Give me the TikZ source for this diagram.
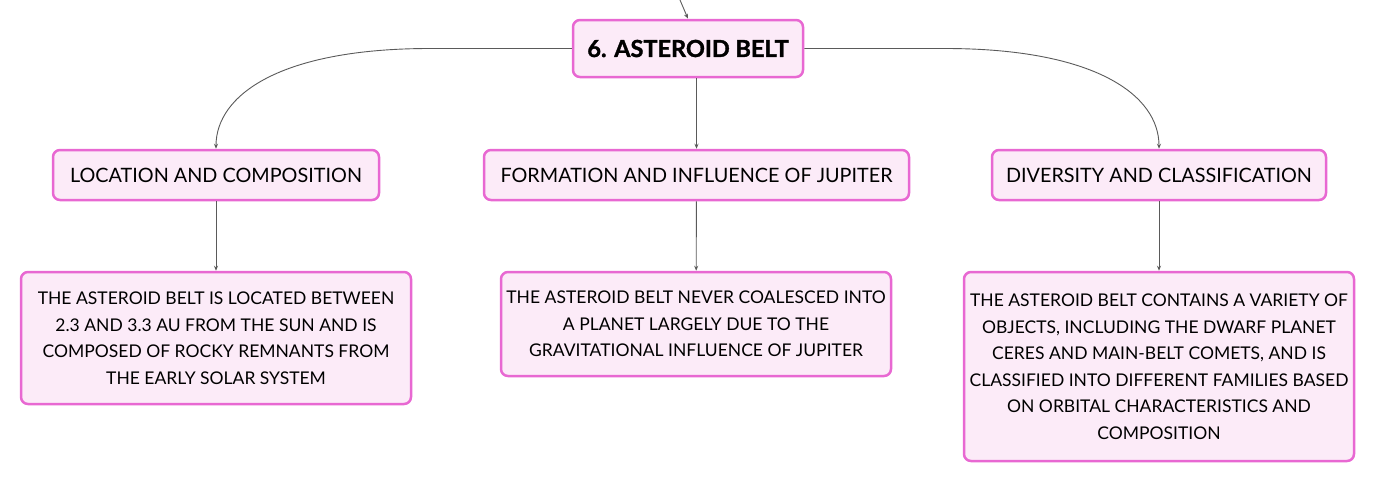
\documentclass[tikz,border=0pt]{standalone}
\usepackage{fontspec}
\setmainfont{Lato}
\newfontfamily\titlefont[FakeBold=1.4]{Lato Bold}
\usetikzlibrary{arrows.meta}
\definecolor{boxfill}{HTML}{FCEBF8}
\definecolor{boxline}{HTML}{E868D2}
\definecolor{conn}{HTML}{5A5A5A}
\tikzset{
  mbox/.style={draw=boxline, fill=boxfill, line width=2.5pt, rounded corners=7pt, inner sep=0pt, align=center, text=black},
  lvlone/.style={mbox, font=\fontsize{19.8}{24}\selectfont, minimum height=50pt},
  lvltwo/.style={mbox, font=\fontsize{17.5}{26.5}\selectfont},
  conn/.style={draw=conn, line width=0.9pt, -{Stealth[length=5pt,width=4pt]}}
}
\begin{document}
\begin{tikzpicture}[x=1pt,y=-1pt]
\useasboundingbox (0,0) rectangle (1376,483);
\node[mbox, font=\fontsize{23.5}{28}\selectfont\titlefont, minimum width=230pt, minimum height=57pt] (main) at (688,48.5) {6. ASTEROID BELT};
\node[lvlone, minimum width=326pt] (l1) at (216,175) {LOCATION AND COMPOSITION};
\node[lvlone, minimum width=425pt] (m1) at (696.5,175) {FORMATION AND INFLUENCE OF JUPITER};
\node[lvlone, minimum width=334pt] (r1) at (1159,175) {DIVERSITY AND CLASSIFICATION};
\node[lvltwo, minimum width=390pt, minimum height=132pt] (l2) at (216,338) {THE ASTEROID BELT IS LOCATED BETWEEN\\2.3 AND 3.3 AU FROM THE SUN AND IS\\COMPOSED OF ROCKY REMNANTS FROM\\THE EARLY SOLAR SYSTEM};
\node[lvltwo, minimum width=390pt, minimum height=104pt] (m2) at (696,324) {THE ASTEROID BELT NEVER COALESCED INTO\\A PLANET LARGELY DUE TO THE\\GRAVITATIONAL INFLUENCE OF JUPITER};
\node[lvltwo, minimum width=390pt, minimum height=189pt] (r2) at (1159,366.5) {THE ASTEROID BELT CONTAINS A VARIETY OF\\OBJECTS, INCLUDING THE DWARF PLANET\\CERES AND MAIN-BELT COMETS, AND IS\\CLASSIFIED INTO DIFFERENT FAMILIES BASED\\ON ORBITAL CHARACTERISTICS AND\\COMPOSITION};
\coordinate (top) at (680,0);
\draw[conn] (top) -- (main.north);
\draw[conn] (main.west) -- (430,48.5) .. controls (280,48.5) and (216,95) .. (l1.north);
\draw[conn] (main.east) -- (945,48.5) .. controls (1095,48.5) and (1159,95) .. (r1.north);
\draw[conn] (main.south -| m1.north) -- (m1.north);
\draw[conn] (l1) -- (l2);
\draw[conn] (m1) -- (m2);
\draw[conn] (r1) -- (r2);
\end{tikzpicture}
\end{document}
